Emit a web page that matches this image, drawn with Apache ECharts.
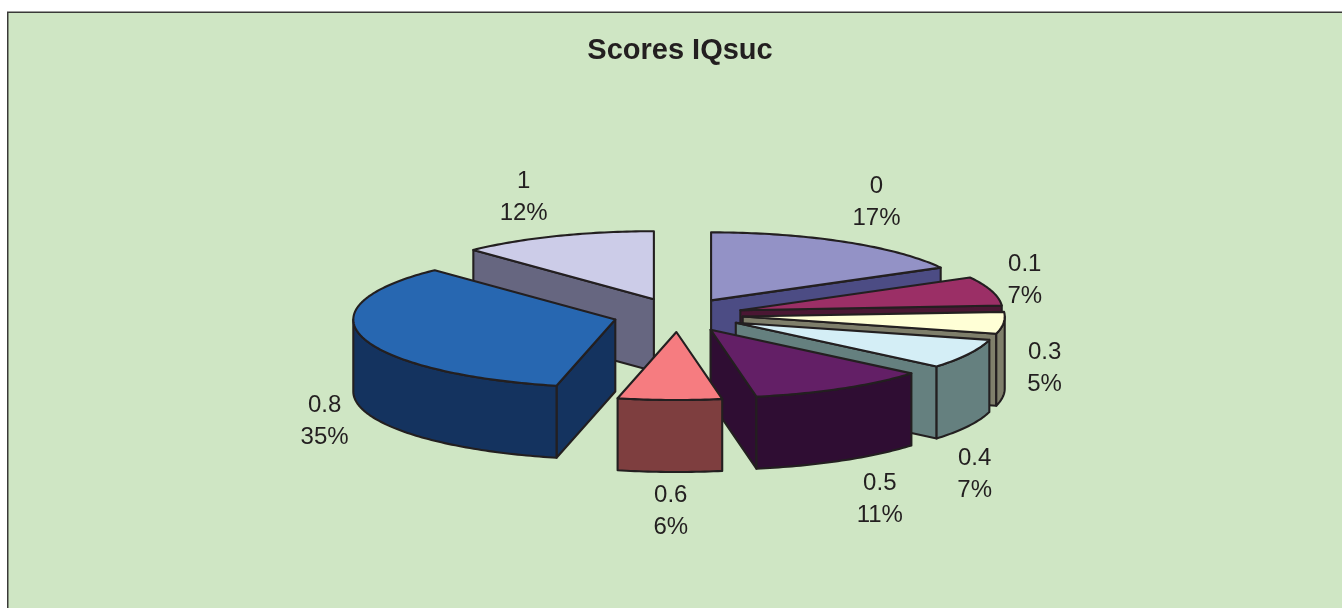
<!DOCTYPE html>
<html><head><meta charset="utf-8">
<style>html,body{margin:0;padding:0;background:#fff}#c{width:1342px;height:608px}</style>
<script src="https://cdn.jsdelivr.net/npm/echarts@6/dist/echarts.min.js"></script>
</head><body><div id="c"></div>
<script>
const categories = ['0','0.1','0.3','0.4','0.5','0.6','0.8','1'];
const values = [17, 6.9, 5.15, 7.05, 11.1, 6.4, 34.3, 12.1];
const percentLabels = ['17%','7%','5%','7%','11%','6%','35%','12%'];
const topColors = ['#9392c6','#9b2f66','#ffffd6','#d4eef6','#631f66','#f67c80','#2767b1','#cccce8'];
const sideColors = ['#4c4c84','#4a1733','#7f7f6b','#65807f','#2f0d33','#7e3e3f','#14335f','#666680'];
// label centre offset from each slice's outer mid-point
const labelOffsets = [[32,-39],[33,-11],[41,46],[6,120],[38,111],[1,111],[-38,84],[-33,-39]];

const CX=678, CY=315, RX=262, RY=68, EX=65, EY=17, DEPTH=72, INK='#231f20';
const total = values.reduce((a,b)=>a+b,0);
let acc = 0;
const slices = values.map((v,i)=>{
  const a = acc/total*360; acc += v; const b = acc/total*360;
  return {i,a,b,m:(a+b)/2};
});
const rad = d=>d*Math.PI/180;
const order = slices.slice().sort((p,q)=>Math.cos(rad(q.m))-Math.cos(rad(p.m)));

function renderItem(params, api){
  const s = order[api.value(0)];
  const ax = CX+EX*Math.sin(rad(s.m)), ay = CY-EY*Math.cos(rad(s.m));
  const P = (deg,drop)=>[ax+RX*Math.sin(rad(deg)), ay-RY*Math.cos(rad(deg))+(drop||0)];
  const arc = (from,to,drop)=>{const n=Math.max(2,Math.ceil((to-from)));const r=[];
    for(let k=0;k<=n;k++) r.push(P(from+(to-from)*k/n,drop)); return r;};
  const kids=[];
  const poly=(pts,fill)=>kids.push({type:'polygon',shape:{points:pts},
    style:{fill,stroke:INK,lineWidth:2.1,lineJoin:'round'}});
  const side=sideColors[s.i], top=topColors[s.i];
  if(Math.sin(rad(s.a))<0){const e=P(s.a);poly([[ax,ay],e,[e[0],e[1]+DEPTH],[ax,ay+DEPTH]],side);}
  if(Math.sin(rad(s.b))>0){const e=P(s.b);poly([[ax,ay],e,[e[0],e[1]+DEPTH],[ax,ay+DEPTH]],side);}
  const from=Math.max(s.a,90), to=Math.min(s.b,270);
  if(to>from){poly(arc(from,to,0).concat(arc(from,to,DEPTH).reverse()),side);}
  poly([[ax,ay]].concat(arc(s.a,s.b,0)),top);
  return {type:'group',children:kids};
}

function renderLabel(params, api){
  const s = order[api.value(0)];
  const off = labelOffsets[s.i];
  const x = CX+(EX+RX)*Math.sin(rad(s.m))+off[0];
  const y = CY-(EY+RY)*Math.cos(rad(s.m))+off[1];
  return {type:'text',style:{x,y,text:categories[s.i]+'\n'+percentLabels[s.i],align:'center',verticalAlign:'middle',
    fill:'#231f20',font:'24px "Liberation Sans", Arial, sans-serif',lineHeight:32}};
}

const chart = echarts.init(document.getElementById('c'),null,{renderer:'canvas'});
chart.setOption({
  animation:false,
  backgroundColor:'#ffffff',
  title:{text:'Scores IQsuc',left:675,top:29,textAlign:'center',
    textStyle:{fontFamily:'"Liberation Sans", Arial, sans-serif',fontWeight:'bold',fontSize:29,color:'#231f20',lineHeight:34}},
  graphic:[{type:'rect',z:-10,silent:true,shape:{x:7.75,y:12.25,width:1340,height:610},
    style:{fill:'#cfe6c4',stroke:'#3a3a38',lineWidth:1.5}}],
  series:[
    {type:'custom',coordinateSystem:'none',renderItem,data:order.map((_,k)=>[k]),silent:true,z:2},
    {type:'custom',coordinateSystem:'none',renderItem:renderLabel,data:order.map((_,k)=>[k]),silent:true,z:3}
  ]
});
</script></body></html>
